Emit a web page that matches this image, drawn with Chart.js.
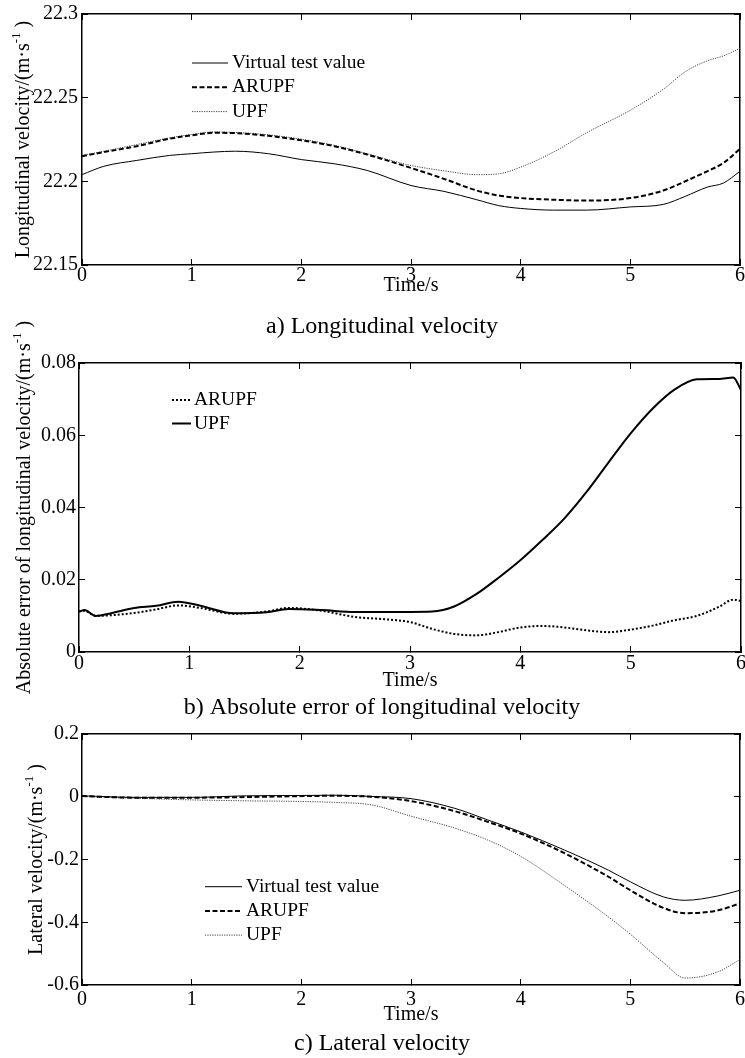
<!DOCTYPE html>
<html>
<head>
<meta charset="utf-8">
<script src="https://cdn.jsdelivr.net/npm/chart.js@4.4.1/dist/chart.umd.min.js"></script>
<style>
  html, body { margin: 0; padding: 0; background: #fff; overflow: hidden; }
  #page { position: relative; width: 745px; height: 1058px; }
  canvas { position: absolute; left: 0; }
</style>
</head>
<body>
<div id="page">
  <canvas id="vitesse-longitudinale" width="745" height="345" style="top:0"></canvas>
  <canvas id="erreur-longitudinale" width="745" height="425" style="top:300px"></canvas>
  <canvas id="vitesse-laterale" width="745" height="333" style="top:725px"></canvas>
</div>
<script>
const POLICE = '"Liberation Serif", "Times New Roman", serif';

// a) vitesse longitudinale
const tempsLongitudinal = [0, 0.2, 0.5, 0.8, 1.0, 1.2, 1.4, 1.7, 2.0, 2.3, 2.6, 3.0, 3.3, 3.6, 3.8, 4.0, 4.3, 4.6, 5.0, 5.3, 5.5, 5.7, 5.85, 6.0];
const longitudinalVirtuel = [22.204, 22.209, 22.2125, 22.2155, 22.2165, 22.2175, 22.218, 22.2165, 22.213, 22.2105, 22.2065, 22.1975, 22.194, 22.189, 22.1855, 22.1838, 22.1828, 22.1828, 22.1847, 22.1862, 22.191, 22.1965, 22.199, 22.206];
const longitudinalARUPF = [22.215, 22.2175, 22.221, 22.2255, 22.2275, 22.229, 22.2288, 22.2272, 22.2245, 22.221, 22.216, 22.208, 22.2015, 22.1945, 22.1915, 22.19, 22.189, 22.1885, 22.19, 22.1945, 22.2, 22.206, 22.211, 22.2195];
const longitudinalUPF = [22.2155, 22.218, 22.222, 22.226, 22.228, 22.2295, 22.2292, 22.2278, 22.2252, 22.2215, 22.2165, 22.2095, 22.2063, 22.204, 22.2045, 22.2085, 22.2175, 22.229, 22.2425, 22.255, 22.2655, 22.272, 22.275, 22.2795];

// b) erreur absolue de la vitesse longitudinale
const tempsErreur = [0, 0.05, 0.15, 0.3, 0.5, 0.7, 0.9, 1.1, 1.4, 1.7, 1.9, 2.2, 2.5, 2.8, 3.0, 3.2, 3.4, 3.6, 3.8, 4.0, 4.2, 4.4, 4.6, 4.8, 5.0, 5.2, 5.4, 5.6, 5.8, 5.93, 6.0];
const erreurARUPF = [0.0113, 0.0114, 0.01, 0.0102, 0.0108, 0.0118, 0.0129, 0.0122, 0.0106, 0.0112, 0.0122, 0.0114, 0.0097, 0.009, 0.0083, 0.0064, 0.005, 0.0046, 0.0055, 0.0068, 0.0072, 0.0068, 0.006, 0.0055, 0.0062, 0.0073, 0.0088, 0.01, 0.0125, 0.0145, 0.0141];
const erreurUPF = [0.0111, 0.0116, 0.01, 0.0108, 0.0122, 0.0128, 0.0139, 0.0128, 0.0107, 0.011, 0.0119, 0.0116, 0.0111, 0.0111, 0.0111, 0.0112, 0.0126, 0.016, 0.0205, 0.0254, 0.031, 0.037, 0.0443, 0.0525, 0.0605, 0.0674, 0.0727, 0.0755, 0.0756, 0.076, 0.0725];

// c) vitesse latérale
const tempsLateral = [0, 0.5, 1.0, 1.5, 2.0, 2.3, 2.64, 3.0, 3.4, 3.7, 4.0, 4.4, 4.8, 5.0, 5.3, 5.5, 5.8, 6.0];
const lateralVirtuel = [0.003, -0.002, -0.002, 0.003, 0.004, 0.005, 0.001, -0.006, -0.037, -0.074, -0.112, -0.17, -0.234, -0.271, -0.319, -0.33, -0.316, -0.298];
const lateralARUPF = [0.002, -0.003, -0.003, -0.001, 0.002, 0.003, 0, -0.014, -0.046, -0.08, -0.117, -0.18, -0.255, -0.298, -0.354, -0.371, -0.362, -0.34];
const lateralUPF = [0.001, -0.005, -0.01, -0.013, -0.015, -0.018, -0.026, -0.062, -0.1, -0.138, -0.19, -0.283, -0.383, -0.438, -0.528, -0.578, -0.558, -0.519];

const TRAITS = {
  VIRTUEL: { borderColor: '#000', borderWidth: 1, borderDash: [] },
  ARUPF_TIRETS: { borderColor: '#000', borderWidth: 2, borderDash: [5, 2.5] },
  UPF_POINTILLES: { borderColor: '#444', borderWidth: 1, borderDash: [1.2, 1.2] },
  ARUPF_POINTILLES: { borderColor: '#000', borderWidth: 2, borderDash: [2, 2] },
  UPF_PLEIN: { borderColor: '#000', borderWidth: 2, borderDash: [] },
};

const enPoints = (temps, valeurs) => temps.map((t, i) => ({ x: t, y: valeurs[i] }));
const formateTick = (valeur) => String(Number(valeur.toFixed(3)));

const titreAxeY = {
  id: 'titreAxeY',
  afterDraw(chart, args, o) {
    const { ctx, chartArea } = chart;
    const principale = `20px ${POLICE}`;
    const exposant = `13px ${POLICE}`;
    ctx.save();
    ctx.translate(o.x, (chartArea.top + chartArea.bottom) / 2);
    ctx.rotate(-Math.PI / 2);
    ctx.fillStyle = '#000';
    ctx.textBaseline = 'alphabetic';
    ctx.font = principale;
    const l1 = ctx.measureText(o.texte).width;
    const l3 = ctx.measureText(' )').width;
    ctx.font = exposant;
    const l2 = ctx.measureText('-1').width;
    let x = -(l1 + l2 + l3) / 2;
    ctx.font = principale;
    ctx.fillText(o.texte, x, 7);
    x += l1;
    ctx.font = exposant;
    ctx.fillText('-1', x, -2);
    x += l2;
    ctx.font = principale;
    ctx.fillText(' )', x, 7);
    ctx.restore();
  },
};

const legendeInterne = {
  id: 'legendeInterne',
  afterDatasetsDraw(chart, args, o) {
    const { ctx, chartArea } = chart;
    ctx.save();
    ctx.font = `19.5px ${POLICE}`;
    ctx.textBaseline = 'middle';
    ctx.fillStyle = '#000';
    chart.data.datasets.forEach((jeu, i) => {
      const x = chartArea.left + o.x;
      const y = chartArea.top + o.y + i * o.pas;
      ctx.strokeStyle = jeu.borderColor;
      ctx.lineWidth = jeu.borderWidth;
      ctx.setLineDash(jeu.borderDash || []);
      ctx.beginPath();
      ctx.moveTo(x, y);
      ctx.lineTo(x + o.ligne, y);
      ctx.stroke();
      ctx.fillText(jeu.label, x + o.ligne + o.ecart, y);
    });
    ctx.restore();
  },
};

const axe = (position, options) => ({
  type: 'linear',
  position,
  min: options.min,
  max: options.max,
  border: { color: '#000', width: 1.5 },
  grid: { drawOnChartArea: false, drawTicks: true, tickLength: -6, color: '#000', lineWidth: 1 },
  ticks: {
    display: options.etiquettes,
    stepSize: options.pas,
    padding: options.marge,
    color: '#000',
    font: { family: POLICE, size: 20, lineHeight: 1.2 },
    callback: formateTick,
  },
  title: options.titre
    ? { display: true, text: options.titre, color: '#000', font: { family: POLICE, size: 20, lineHeight: 1 }, padding: 0 }
    : { display: false },
  afterFit: options.ajuste,
});

const dessineFigure = (idCanevas, { jeux, y, cadre, legende, texteAxeY, legendeFigure }) => {
  const bornesX = { min: 0, max: 6, pas: 1 };
  /* eslint-disable no-new */
  new Chart(document.getElementById(idCanevas), {
    type: 'line',
    plugins: [titreAxeY, legendeInterne],
    data: {
      datasets: jeux.map((jeu) => ({
        label: jeu.label,
        data: jeu.data,
        ...jeu.trait,
        pointRadius: 0,
        fill: false,
        cubicInterpolationMode: 'monotone',
      })),
    },
    options: {
      responsive: false,
      animation: false,
      devicePixelRatio: 1,
      events: [],
      layout: { padding: { top: cadre.haut, left: cadre.gauche, right: cadre.droite, bottom: 0 } },
      scales: {
        x: axe('bottom', {
          ...bornesX, etiquettes: true, marge: cadre.margeX, titre: 'Time/s',
          ajuste: (s) => { s.height = cadre.hauteurAxeX; s.paddingLeft = 0; s.paddingRight = 0; },
        }),
        x2: axe('top', {
          ...bornesX, etiquettes: false, marge: 0,
          ajuste: (s) => { s.height = 0; s.paddingLeft = 0; s.paddingRight = 0; },
        }),
        y: axe('left', {
          ...y, etiquettes: true, marge: cadre.margeY,
          ajuste: (s) => { s.width = cadre.largeurAxeY; s.paddingTop = 0; s.paddingBottom = 0; },
        }),
        y2: axe('right', {
          ...y, etiquettes: false, marge: 0,
          ajuste: (s) => { s.width = 0; s.paddingTop = 0; s.paddingBottom = 0; },
        }),
      },
      plugins: {
        legend: { display: false },
        tooltip: { enabled: false },
        title: {
          display: true,
          position: 'bottom',
          text: legendeFigure,
          color: '#000',
          font: { family: POLICE, size: 24, weight: 'normal', lineHeight: 1 },
          padding: cadre.titre,
        },
        titreAxeY: { texte: texteAxeY, x: cadre.xTitreY },
        legendeInterne: legende,
      },
    },
  });
  /* eslint-enable no-new */
};

dessineFigure('vitesse-longitudinale', {
  jeux: [
    { label: 'Virtual test value', data: enPoints(tempsLongitudinal, longitudinalVirtuel), trait: TRAITS.VIRTUEL },
    { label: 'ARUPF', data: enPoints(tempsLongitudinal, longitudinalARUPF), trait: TRAITS.ARUPF_TIRETS },
    { label: 'UPF', data: enPoints(tempsLongitudinal, longitudinalUPF), trait: TRAITS.UPF_POINTILLES },
  ],
  y: { min: 22.15, max: 22.3, pas: 0.05 },
  cadre: {
    haut: 14, gauche: 24, droite: 5, largeurAxeY: 58, hauteurAxeX: 31,
    margeX: 5, margeY: 10, titre: { top: 19, bottom: 6 }, xTitreY: 22,
  },
  legende: { x: 110, y: 49, ligne: 36, ecart: 4, pas: 24.3 },
  texteAxeY: 'Longitudinal velocity/(m·s',
  legendeFigure: 'a) Longitudinal velocity',
});

dessineFigure('erreur-longitudinale', {
  jeux: [
    { label: 'ARUPF', data: enPoints(tempsErreur, erreurARUPF), trait: TRAITS.ARUPF_POINTILLES },
    { label: 'UPF', data: enPoints(tempsErreur, erreurUPF), trait: TRAITS.UPF_PLEIN },
  ],
  y: { min: 0, max: 0.08, pas: 0.02 },
  cadre: {
    haut: 63, gauche: 23, droite: 4, largeurAxeY: 56, hauteurAxeX: 39,
    margeX: 6, margeY: 9, titre: { top: 5, bottom: 5 }, xTitreY: 23,
  },
  legende: { x: 93, y: 37, ligne: 19, ecart: 3, pas: 23.5 },
  texteAxeY: 'Absolute error of longitudinal velocity/(m·s',
  legendeFigure: 'b) Absolute error of longitudinal velocity',
});

dessineFigure('vitesse-laterale', {
  jeux: [
    { label: 'Virtual test value', data: enPoints(tempsLateral, lateralVirtuel), trait: TRAITS.VIRTUEL },
    { label: 'ARUPF', data: enPoints(tempsLateral, lateralARUPF), trait: TRAITS.ARUPF_TIRETS },
    { label: 'UPF', data: enPoints(tempsLateral, lateralUPF), trait: TRAITS.UPF_POINTILLES },
  ],
  y: { min: -0.6, max: 0.2, pas: 0.2 },
  cadre: {
    haut: 9, gauche: 24, droite: 5, largeurAxeY: 58, hauteurAxeX: 40,
    margeX: 9, margeY: 9, titre: { top: 7, bottom: 2 }, xTitreY: 35,
  },
  legende: { x: 123, y: 152.7, ligne: 37, ecart: 4, pas: 24.2 },
  texteAxeY: 'Lateral velocity/(m·s',
  legendeFigure: 'c) Lateral velocity',
});
</script>
</body>
</html>
